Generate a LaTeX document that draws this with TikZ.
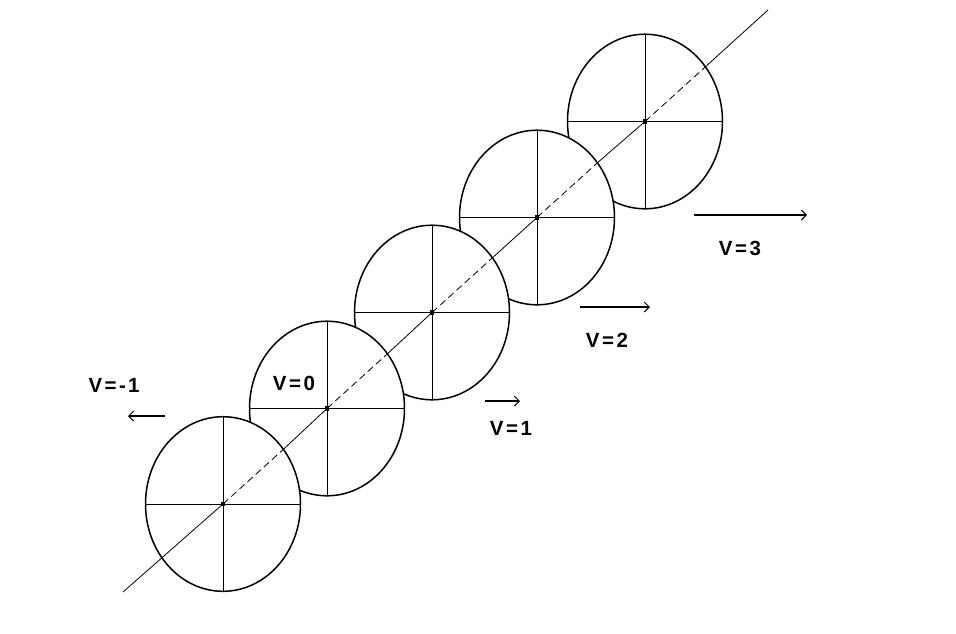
\documentclass[tikz,border=0pt]{standalone}
\usepackage{fontspec}
\setmainfont{Liberation Sans}
\usetikzlibrary{arrows.meta,calc}
\tikzset{
  wheel/.style={draw=black, fill=white, line width=1.5pt},
  spoke/.style={draw=black, line width=0.8pt},
  axle/.style={draw=black, line width=0.8pt},
  axledash/.style={draw=black, line width=0.8pt, dash pattern=on 7pt off 4pt},
  hub/.style={fill=black},
  velarrow/.style={draw=black, line width=1.5pt, -{Straight Barb[length=5pt,width=10pt,line width=1pt]}},
  vlabel/.style={font=\fontsize{20.5pt}{22pt}\selectfont\bfseries, inner sep=0pt}
}
\newcommand{\vtext}[1]{V\hspace{2.5pt}=\hspace{2.5pt}#1}
\begin{document}
\begin{tikzpicture}[x=1pt,y=-1pt]
\useasboundingbox (0,0) rectangle (956,633);
% wheel centres
\coordinate (c1) at (223,504);
\coordinate (c2) at (327,408.5);
\coordinate (c3) at (432,312.5);
\coordinate (c4) at (537,217.5);
\coordinate (c5) at (645,121.5);
% wheels, upper first so lower ones lie in front
\foreach \c in {c5,c4,c3,c2,c1}{
  \path[wheel] (\c) ellipse [x radius=77.5, y radius=87.3];
  \draw[spoke] ($(\c)+(-77.5,0)$) -- ($(\c)+(77.5,0)$);
  \draw[spoke] ($(\c)+(0,-87.3)$) -- ($(\c)+(0,87.3)$);
}
% axle line
\coordinate (s) at (123,592);
\coordinate (t) at (768,10);
\foreach \c in {c1,c2,c3,c4,c5}{
  \coordinate (e\c) at ($(\c)+(60.4,-54.7)$);
}
\draw[axle] (s) -- (c1);
\draw[axle] (ec1) -- (c2);
\draw[axle] (ec2) -- (c3);
\draw[axle] (ec3) -- (c4);
\draw[axle] (ec4) -- (c5);
\draw[axle] (ec5) -- (t);
\foreach \c in {c1,c2,c3,c4,c5}{
  \draw[axledash] (\c) -- (e\c);
  \fill[hub] ($(\c)+(-2.3,-2.3)$) rectangle ($(\c)+(2.3,2.3)$);
}
% velocity arrows
\coordinate (am1s) at (165,416); \coordinate (am1e) at (128,416);
\coordinate (a1s) at (485,401);  \coordinate (a1e) at (520,401);
\coordinate (a2s) at (580,307);  \coordinate (a2e) at (650,307);
\coordinate (a3s) at (694,215);  \coordinate (a3e) at (807,215);
\draw[velarrow] (am1s) -- (am1e);
\draw[velarrow] (a1s) -- (a1e);
\draw[velarrow] (a2s) -- (a2e);
\draw[velarrow] (a3s) -- (a3e);
% labels
\node[vlabel] (lm1) at (114,385) {\vtext{-\hspace{2pt}1}};
\node[vlabel] (l0) at (294,383) {\vtext{0}};
\node[vlabel] (l1) at (511,428) {\vtext{1}};
\node[vlabel] (l2) at (607,340) {\vtext{2}};
\node[vlabel] (l3) at (740,248) {\vtext{3}};
\end{tikzpicture}
\end{document}
